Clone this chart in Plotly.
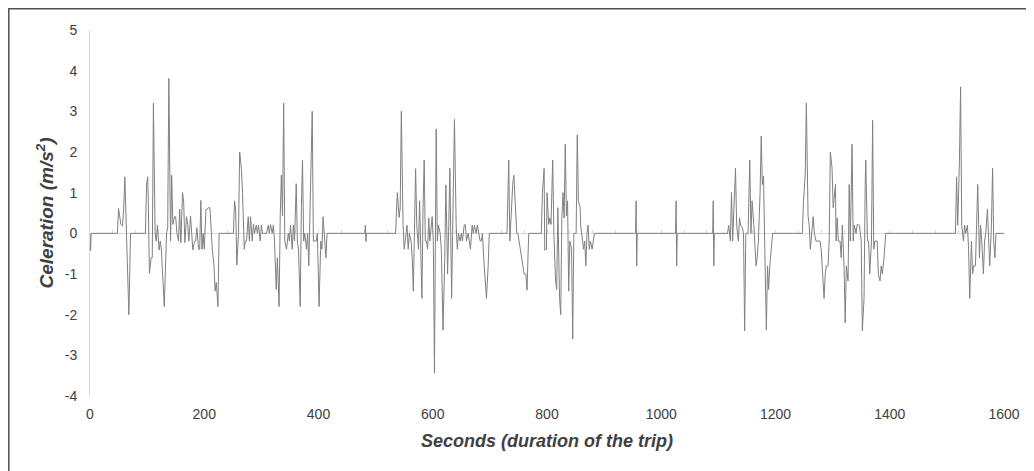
import plotly.graph_objects as go

# Time (s) and celeration (m/s²)
seconds = [
    0, 1, 2,
    48, 50, 52, 54, 57, 59, 61, 64, 68, 71,
    97, 99, 101, 102, 104, 107, 109, 111, 114, 116, 118, 121, 123, 125, 130, 134, 136, 138,
    141, 143, 145, 148, 150, 152, 155, 157, 159, 162, 164, 166, 169, 171, 173, 176, 178, 180,
    183, 185, 187, 190, 192, 194, 196, 198, 200, 203, 205, 207, 210, 212, 214, 217, 219, 221, 224, 226,
    251, 253, 255, 257, 260, 262, 265, 267, 270, 272, 274, 277, 279, 281, 284, 286, 288, 291, 293,
    295, 298, 300, 302, 309, 312, 314, 316, 319, 321, 323, 326, 328, 331, 333, 335, 337, 339, 341,
    344, 347, 349, 351, 354, 356, 358, 361, 363, 365, 368, 370, 372, 374, 376, 379, 381, 383, 385,
    389, 391, 393, 396, 398, 401, 404, 406, 408, 411, 413, 415,
    481, 482, 483, 484,
    535, 536, 538, 541, 543, 545, 548, 550, 552, 555, 557, 559, 562, 564, 566, 568, 570, 572, 575,
    577, 579, 581, 583, 585, 587, 589, 591, 593, 595, 597, 599, 601, 603, 606, 608, 610, 613, 615,
    618, 621, 623, 625, 626, 628, 630, 633, 635, 638, 641, 643, 645, 648, 650, 652, 655, 657, 659,
    662, 664, 666, 669, 671, 673, 676, 678, 680, 683, 685, 687, 690, 692, 694, 697, 699,
    730, 733, 735, 737, 740, 742, 744, 747, 749, 751, 754, 756, 758, 760, 763, 765, 768,
    790, 792, 795, 796, 799, 800, 803, 805, 807, 810, 812, 815, 817, 819, 822, 824, 826, 828, 830,
    832, 834, 836, 838, 840, 843, 845, 847, 851, 853, 855, 858, 859, 862, 864, 866, 868, 870, 872,
    874, 876, 879, 881, 883,
    955, 956, 957, 958,
    1025, 1026, 1027, 1028,
    1090, 1091, 1092, 1093,
    1116, 1118, 1121, 1123, 1125, 1128, 1130, 1132, 1135, 1137, 1139, 1142, 1144, 1146, 1148, 1152,
    1155, 1157, 1159, 1162, 1164, 1166, 1168, 1170, 1173, 1175, 1177, 1179, 1181, 1184, 1186, 1188,
    1190, 1193, 1195,
    1247, 1249, 1252, 1254, 1257, 1259, 1261, 1264, 1266, 1268, 1271, 1273, 1275, 1278, 1280, 1282,
    1285, 1287, 1289, 1292, 1294, 1296, 1299, 1301, 1303, 1305, 1306, 1308, 1310, 1313, 1315, 1317,
    1320, 1322, 1324, 1327, 1329, 1331, 1334, 1336, 1338, 1341, 1343, 1345, 1347, 1350, 1352, 1355,
    1357, 1358, 1361, 1363, 1365, 1368, 1370, 1372, 1374, 1376, 1378, 1380, 1383, 1385, 1387, 1390,
    1392, 1393,
    1515, 1517, 1519, 1522, 1524, 1526, 1529, 1531, 1533, 1536, 1538, 1540, 1543, 1545, 1547, 1550,
    1552, 1554, 1557, 1559, 1561, 1564, 1566, 1568, 1571, 1573, 1575, 1578, 1580, 1582, 1584, 1586,
    1600,
]

celeration = [
    0, -0.42, 0,
    0, 0.61, 0.43, 0.22, 0.18, 0.6, 1.39, 0, -2.0, 0,
    0, 1.2, 1.39, 0.8, -0.98, -0.6, -0.6, 3.2, 0, -0.19, 0.2, -0.41, -0.19, -0.41, -1.8, 0, 0.14, 3.81,
    -0.19, 1.43, 0.22, 0.41, 0.41, 0.02, -0.19, 0.59, -0.23, 1.0, 0.77, -0.23, 0.41, 0.22, -0.19, 0.43, 0, -0.41,
    -0.19, -0.19, 0.14, -0.39, -0.39, 0.81, -0.39, 0, -0.39, 0.59, 0.59, 0.63, 0.63, 0, -0.39, -0.78, -1.42, -1.21, -1.8, 0,
    0, 0.8, 0.59, -0.78, 0, 2.0, 1.6, 1.0, -0.39, -0.19, -0.19, 0.41, -0.19, 0.41, -0.19, 0.22, 0, 0.2, 0,
    0.2, -0.19, 0.2, 0, 0, 0.2, 0, 0.22, 0, 0.2, -0.19, -1.38, -0.6, -1.8, 0.43, 1.43, 0.43, 3.2, -0.19,
    -0.39, 0, -0.19, 0.2, -0.39, 0.2, -0.19, 1.22, -0.19, -0.39, -1.8, 0.63, 1.8, -0.19, 0, -0.39, 0, -0.8, 0.63,
    3.0, -0.19, -0.19, -0.19, 0, -1.8, -0.19, -0.39, 0.41, -0.39, -0.6, 0,
    0, 0.2, -0.2, 0,
    0, 0.39, 1.0, 0.39, 0.63, 3.0, 0.22, -0.39, -0.19, 0.2, -0.39, 0, -0.19, -0.6, -1.42, 0.8, 1.59, 0.2, -0.39,
    0.8, -0.19, -1.6, 0.63, 1.8, -0.19, -0.19, -0.39, 0.38, -0.19, 0.22, 0.41, -0.19, -3.43, 2.57, -0.19, 0.2, 0, -0.39,
    -2.38, -0.6, 1.19, -0.19, -1.0, 0.2, 1.6, -1.6, 0.43, 2.8, 0.2, -0.39, 0, -0.19, 0, -0.19, 0.2, 0.22, -0.19,
    0, -0.19, -0.39, 0.2, 0, 0.2, 0, 0.2, 0, -0.19, -0.19, 0, -0.78, -1.17, -1.6, -0.8, 0,
    0, 1.8, -0.19, 0.38, 1.2, 1.43, 0.8, 0, 0, -0.19, -0.39, -0.6, -0.78, -1.0, -1.0, -1.4, 0,
    0, 1.0, 1.6, -0.41, -0.39, 1.0, 0.22, 0.38, 0.22, 1.8, 0, -1.17, -1.38, 0.63, -1.6, -2.0, 0.38, 1.0, 0.38,
    2.19, 0.43, 0.8, -1.42, -0.19, -0.39, -2.6, 0, 0, 2.42, 0.8, 0.63, 0.2, -0.19, -0.39, -0.19, -0.8, 0, 0.2,
    -0.39, -0.19, -0.39, -0.19, 0,
    0, 0.8, -0.8, 0,
    0, 0.8, -0.8, 0,
    0, 0.8, -0.8, 0,
    0, 0.2, -0.19, 1.0, -0.19, 0.8, 1.6, 0.2, -0.19, 0.38, 0.2, 0.14, 0, -2.4, 0, 0,
    1.8, 0, 0.8, 0.22, -0.39, -0.8, -0.6, -0.19, 1.0, 2.39, 1.2, 1.41, -0.19, -2.38, -0.8, -1.38,
    -0.8, -0.19, 0,
    0, 0.8, 1.43, 3.2, 0.43, 0.2, -0.39, 0, 0.41, 0, -0.19, -0.19, -0.19, -0.19, -0.39, -0.8,
    -1.6, -1.01, -0.8, -0.8, -0.19, 2.0, 1.6, 0.63, 1.0, 1.2, -0.19, 0.38, -0.19, -0.19, -0.6, 0.2,
    -0.8, -2.2, -0.8, -1.17, 1.2, -0.19, 2.19, -0.19, 0.2, 0, 0.22, 0.22, 0.2, -0.19, -2.4, -1.6,
    1.2, 1.8, -0.19, -0.19, -1.0, -0.19, 2.78, -0.39, -0.19, -0.19, -0.19, -1.0, -1.17, -0.8, -1.0, -0.6,
    -0.19, 0,
    0, 1.39, 0.2, 1.8, 3.6, 0.2, -0.19, 0.2, 0, 0.2, -0.39, -1.6, -0.19, -1.0, -0.8, -0.8,
    0.2, 1.2, -0.6, 0.2, -0.19, -1.0, -0.19, 0, 0.6, -0.19, -0.8, 0.2, 1.6, -0.19, -0.6, 0,
    0,
]

x_ticks = [0, 200, 400, 600, 800, 1000, 1200, 1400, 1600]
y_ticks = [-4, -3, -2, -1, 0, 1, 2, 3, 4, 5]

x_title = "Seconds (duration of the trip)"
y_title = "Celeration (m/s<sup>2</sup>)"

FONT = "Liberation Sans, Arial, sans-serif"
TEXT = "#404040"

fig = go.Figure()
fig.add_trace(go.Scatter(
    x=seconds, y=celeration, mode="lines",
    line=dict(color="#808080", width=1),
    showlegend=False, hoverinfo="x+y",
))

Y_MIN, Y_MAX = -4, 5

# The page body adds an 8px offset, so the figure is 1026x463 and its top-left
# edge forms the visible frame of the chart.
fig.update_layout(
    width=1026, height=463,
    margin=dict(l=82, r=30, t=22, b=75, autoexpand=False),
    paper_bgcolor="white", plot_bgcolor="white",
    font=dict(family=FONT, size=14, color=TEXT),
    xaxis=dict(
        range=[0, 1600], tickvals=x_ticks, ticktext=[str(v) for v in x_ticks],
        showgrid=False, zeroline=False, showline=False, ticks="",
        ticklabelstandoff=8, automargin=False,
        tickfont=dict(size=14, color=TEXT),
        title=dict(text="<b><i>" + x_title + "</i></b>", font=dict(size=18, color=TEXT), standoff=13),
    ),
    xaxis2=dict(
        range=[0, 1600], overlaying="x", anchor="free", position=(0 - Y_MIN) / (Y_MAX - Y_MIN),
        side="bottom", showgrid=False, zeroline=False, showline=True, layer="below traces",
        linecolor="#d9d9d9", linewidth=1, ticks="inside", ticklen=3, tickcolor="#d9d9d9",
        tick0=0, dtick=40, showticklabels=False, automargin=False,
    ),
    yaxis=dict(
        range=[Y_MIN, Y_MAX], tickvals=y_ticks, ticktext=[str(v) for v in y_ticks],
        showgrid=False, zeroline=False, showline=True, linecolor="#d9d9d9", linewidth=1,
        ticks="", ticklabelstandoff=9, automargin=False,
        tickfont=dict(size=14, color=TEXT),
        title=dict(text="<b><i>" + y_title + "</i></b>", font=dict(size=19, color=TEXT), standoff=6),
    ),
    shapes=[dict(
        type="rect", xref="paper", yref="paper",
        x0=-81.2 / 914, x1=1.05, y0=-0.25, y1=387.2 / 366,
        line=dict(color="#505050", width=1.5), fillcolor="rgba(0,0,0,0)", layer="below",
    )],
)

# keep the secondary axis present
fig.add_trace(go.Scatter(x=[0], y=[0], xaxis="x2", mode="markers",
                         marker=dict(opacity=0), showlegend=False, hoverinfo="skip"))

fig.write_html("out.html")
